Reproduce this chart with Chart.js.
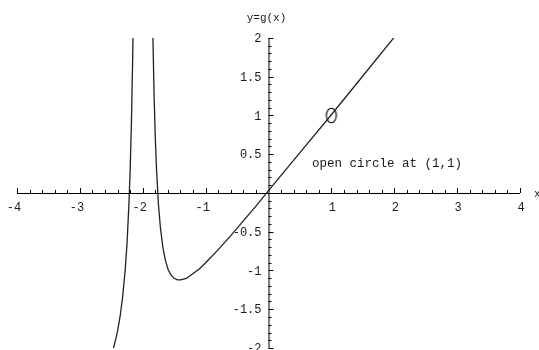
<!DOCTYPE html>
<html>
<head>
<meta charset="utf-8">
<script src="https://cdn.jsdelivr.net/npm/chart.js@4.4.0/dist/chart.umd.min.js"></script>
<style>
  html, body { margin: 0; padding: 0; background: #fff; }
  canvas { display: block; }
</style>
</head>
<body>
<canvas id="plot" width="539" height="350"></canvas>
<script>
// g(x) sampled on both sides of the pole near x = -2
const leftX  = [-2.48, -2.44, -2.40, -2.36, -2.32, -2.28, -2.25, -2.22, -2.20, -2.18, -2.16, -2.15];
const leftY  = [-2.05, -1.92, -1.78, -1.59, -1.34, -1.00, -0.65, -0.15, 0.30, 0.91, 1.75, 2.29];
const rightX = [-1.85, -1.84, -1.82, -1.80, -1.78, -1.75, -1.72, -1.68, -1.64, -1.60, -1.55, -1.50, -1.45, -1.40, -1.35, -1.30, -1.20, -1.10, -1.00, -0.80, -0.60, -0.40, -0.20, 0.00, 0.50, 1.00, 1.50, 2.00];
const rightY = [2.59, 2.07, 1.27, 0.70, 0.29, -0.15, -0.44, -0.70, -0.87, -0.98, -1.06, -1.10, -1.12, -1.12, -1.11, -1.10, -1.04, -0.98, -0.90, -0.73, -0.55, -0.36, -0.17, 0.03, 0.52, 1.01, 1.51, 2.01];

// the hole in the graph
const holeX = [1];
const holeY = [1];

const xTicks = [-4, -3, -2, -1, 1, 2, 3, 4];
const yTicks = [-2, -1.5, -1, -0.5, 0.5, 1, 1.5, 2];
const xMinorStep = 0.2;
const yMinorStep = 0.1;

const xTitle = 'x';
const yTitle = 'y=g(x)';
const noteText = 'open circle at (1,1)';
const noteAt = [0.69, 0.38];

const pts = (xs, ys) => xs.map((x, i) => ({ x, y: ys[i] }));

// little ellipse used as the open-circle marker
function ringImage() {
    const c = document.createElement('canvas');
    c.width = 14; c.height = 19;
    const g = c.getContext('2d');
    g.strokeStyle = '#000';
    g.lineWidth = 1.1;
    g.beginPath();
    g.ellipse(7, 9.5, 5, 7.3, 0, 0, Math.PI * 2);
    g.stroke();
    return c;
}

const FONT = '"Liberation Mono", "DejaVu Sans Mono", monospace';

// Mathematica-style axes crossing at the origin
const crossAxes = {
    id: 'crossAxes',
    beforeDatasetsDraw(chart) {
        const { ctx, scales: { x, y } } = chart;
        const x0 = x.getPixelForValue(0), y0 = y.getPixelForValue(0);
        ctx.save();
        ctx.strokeStyle = '#000';
        ctx.lineWidth = 1;

        ctx.beginPath();
        ctx.moveTo(x.getPixelForValue(x.min), y0 + 0.5);
        ctx.lineTo(x.getPixelForValue(x.max), y0 + 0.5);
        ctx.moveTo(x0 + 0.5, y.getPixelForValue(y.min));
        ctx.lineTo(x0 + 0.5, y.getPixelForValue(y.max));
        ctx.stroke();

        // x ticks point up, y ticks point right
        ctx.beginPath();
        for (let v = x.min; v <= x.max + 1e-9; v += xMinorStep) {
            if (Math.abs(v) < 1e-9) continue;
            const px = Math.round(x.getPixelForValue(v)) + 0.5;
            const major = Math.abs(v - Math.round(v)) < 1e-6;
            ctx.moveTo(px, y0);
            ctx.lineTo(px, y0 - (major ? 5 : 3));
        }
        for (let v = y.min; v <= y.max + 1e-9; v += yMinorStep) {
            if (Math.abs(v) < 1e-9) continue;
            const py = Math.round(y.getPixelForValue(v)) + 0.5;
            const major = Math.abs(v * 2 - Math.round(v * 2)) < 1e-6;
            ctx.moveTo(x0, py);
            ctx.lineTo(x0 + (major ? 5 : 3), py);
        }
        ctx.stroke();

        ctx.fillStyle = '#1a1a1a';
        ctx.font = '12px ' + FONT;
        ctx.textAlign = 'center';
        ctx.textBaseline = 'middle';
        xTicks.forEach(v => ctx.fillText(String(v), x.getPixelForValue(v) + (v < 0 ? -3 : 1), y0 + 15));
        ctx.textAlign = 'right';
        yTicks.forEach(v => ctx.fillText(String(v), x0 - 7, y.getPixelForValue(v) + 1));

        ctx.font = '11px ' + FONT;
        ctx.textAlign = 'center';
        ctx.fillText(yTitle, x0 - 2, y.getPixelForValue(y.max) - 20);
        ctx.textAlign = 'left';
        ctx.fillText(xTitle, x.getPixelForValue(x.max) + 14, y0 + 1);

        ctx.font = '12.5px ' + FONT;
        ctx.fillText(noteText, x.getPixelForValue(noteAt[0]), y.getPixelForValue(noteAt[1]));
        ctx.restore();
    }
};

const curve = { showLine: true, borderColor: '#222', borderWidth: 1.3, pointRadius: 0, tension: 0, fill: false };

new Chart(document.getElementById('plot'), {
    type: 'scatter',
    data: {
        datasets: [
            { ...curve, data: pts(leftX, leftY) },
            { ...curve, data: pts(rightX, rightY) },
            { data: pts(holeX, holeY), pointStyle: ringImage(), pointRadius: 7, showLine: false }
        ]
    },
    options: {
        responsive: false,
        animation: false,
        layout: { autoPadding: false, padding: { left: 17, right: 19, top: 38, bottom: 2 } },
        plugins: { legend: { display: false }, tooltip: { enabled: false } },
        scales: {
            x: { type: 'linear', min: -4, max: 4, display: false },
            y: { type: 'linear', min: -2, max: 2, display: false }
        }
    },
    plugins: [crossAxes]
});
</script>
</body>
</html>
